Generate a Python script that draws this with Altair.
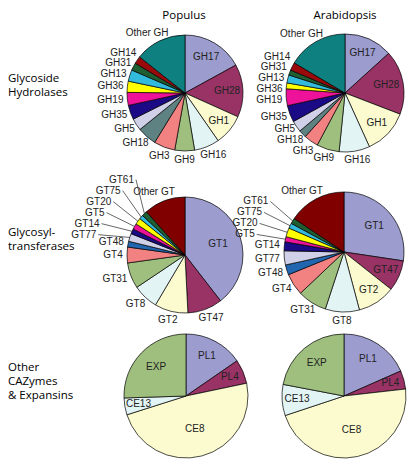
import math
import altair as alt
import pandas as pd

# ---------------- data (percent of family members) ----------------
columns = ["Populus", "Arabidopsis"]
row_titles = [["Glycoside", "Hydrolases"],
              ["Glycosyl-", "transferases"],
              ["Other", "CAZymes", "& Expansins"]]

gh_cats = ["GH17", "GH28", "GH1", "GH16", "GH9", "GH3", "GH18", "GH5", "GH35",
           "GH19", "GH36", "GH13", "GH31", "GH14", "Other GH"]
gh_populus = [17.0, 14.7, 8.6, 7.0, 5.5, 5.9, 5.4, 3.4, 4.0, 3.6, 3.1, 3.2, 2.1, 2.1, 14.3]
gh_arabidopsis = [13.3, 17.6, 12.4, 8.4, 6.2, 4.0, 2.1, 3.1, 4.6, 4.6, 1.6, 2.2, 1.4, 2.2, 16.5]

gt_cats = ["GT1", "GT47", "GT2", "GT8", "GT31", "GT4", "GT48", "GT77", "GT14",
           "GT5", "GT20", "GT75", "GT61", "Other GT"]
gt_populus = [39.5, 9.7, 9.3, 7.1, 7.2, 4.4, 1.6, 2.2, 1.4, 1.6, 1.8, 1.1, 1.5, 11.6]
gt_arabidopsis = [27.4, 8.3, 10.2, 9.2, 7.9, 5.9, 2.7, 3.8, 2.4, 1.4, 2.4, 1.4, 1.5, 15.6]

oth_cats = ["PL1", "PL4", "CE8", "CE13", "EXP"]
oth_populus = [15.4, 6.3, 48.4, 4.4, 25.5]
oth_arabidopsis = [18.4, 4.8, 46.7, 8.1, 22.0]

# ---------------- styles ----------------
colors = {
    "GH17": "#9c9ccf", "GH28": "#993366", "GH1": "#fbfbcf", "GH16": "#e3f4f4",
    "GH9": "#9fbf7f", "GH3": "#f28282", "GH18": "#5e8282", "GH5": "#d0d0e8",
    "GH35": "#1a0a85", "GH19": "#ee1199", "GH36": "#ffff00", "GH13": "#33bbdd",
    "GH31": "#1f5f32", "GH14": "#9a0a0a", "Other GH": "#0f8080",
    "GT1": "#9c9ccf", "GT47": "#993366", "GT2": "#fbfbcf", "GT8": "#e3f4f4",
    "GT31": "#9fbf7f", "GT4": "#f28282", "GT48": "#2266b0", "GT77": "#d0d0e8",
    "GT14": "#1a0a85", "GT5": "#ee1199", "GT20": "#ffff00", "GT75": "#33bbdd",
    "GT61": "#1f5f32", "Other GT": "#800000",
    "PL1": "#9c9ccf", "PL4": "#993366", "CE8": "#fbfbcf", "CE13": "#e3f4f4",
    "EXP": "#9fbf7f",
}
color_scale = alt.Scale(domain=list(colors.keys()), range=list(colors.values()))

LABEL_FONT = "Liberation Sans"
LABEL_SIZE = 10
TITLE_FONT = "Open Sans"
TITLE_SIZE = 11.5

# layout (chart pixel coordinates)
pies = [
    dict(cats=gh_cats, values=gh_populus, cx=177, cy=85, r=58,
         inside=["GH17", "GH28", "GH1"], leader=[]),
    dict(cats=gh_cats, values=gh_arabidopsis, cx=337, cy=85, r=59,
         inside=["GH17", "GH28", "GH1"], leader=[]),
    dict(cats=gt_cats, values=gt_populus, cx=177, cy=247, r=58,
         inside=["GT1"], leader=["GT61", "GT75", "GT20", "GT5", "GT14", "GT77"]),
    dict(cats=gt_cats, values=gt_arabidopsis, cx=336, cy=244, r=60,
         inside=["GT1", "GT47", "GT2"], leader=["GT61", "GT75", "GT20", "GT5"]),
    dict(cats=oth_cats, values=oth_populus, cx=178, cy=388, r=62,
         inside=oth_cats, leader=[]),
    dict(cats=oth_cats, values=oth_arabidopsis, cx=336, cy=388, r=62,
         inside=oth_cats, leader=[]),
]
col_title_pos = [(176, 11), (337, 11)]
row_title_pos = [[71, 85], [225, 239], [360, 374, 388]]

# ---------------- label placement derived from the slice angles ----------------
inside_rows, outside_rows, leader_rows, rule_rows = [], [], [], []
for p in pies:
    total = sum(p["values"])
    cum = 0.0
    outs, leads = [], []
    for cat, v in zip(p["cats"], p["values"]):
        a = 2 * math.pi * (cum + v / 2) / total
        cum += v
        frac = v / total
        s, c = math.sin(a), math.cos(a)
        if cat in p["inside"]:
            rr = p["r"] * (0.8 - 0.5 * frac)
            inside_rows.append(dict(x=p["cx"] + rr * s, y=p["cy"] - rr * c, text=cat))
        elif cat in p["leader"]:
            leads.append((a, cat))
        else:
            hw = len(cat) * 3.0
            ra = p["r"] + 5
            outs.append(dict(x=p["cx"] + ra * s + hw * s,
                             y=p["cy"] - ra * c - 4 * c, text=cat, hw=hw))
    # relax overlapping outside labels vertically
    for _ in range(40):
        for i in range(len(outs)):
            for j in range(i + 1, len(outs)):
                A, B = outs[i], outs[j]
                if abs(A["x"] - B["x"]) < A["hw"] + B["hw"]:
                    gap = abs(A["y"] - B["y"])
                    if gap < 10.8:
                        d = (10.8 - gap) / 2
                        if A["y"] <= B["y"]:
                            A["y"] -= d; B["y"] += d
                        else:
                            A["y"] += d; B["y"] -= d
    for o in outs:
        outside_rows.append(dict(x=o["x"], y=o["y"], text=o["text"]))
    # leader labels stacked on the left
    if leads:
        Rl = 91
        leads.sort(key=lambda t: -t[0])
        m = sum(-Rl * math.cos(a) for a, _ in leads) / len(leads)
        n = len(leads)
        for k, (a, cat) in enumerate(leads):
            dy = m + (k - (n - 1) / 2) * 11
            lx = p["cx"] - math.sqrt(Rl * Rl - dy * dy)
            ly = p["cy"] + dy
            leader_rows.append(dict(x=lx, y=ly, text=cat))
            rule_rows.append(dict(x1=lx + 2, y1=ly, x2=p["cx"] + p["r"] * math.sin(a),
                                  y2=p["cy"] - p["r"] * math.cos(a)))

# ---------------- chart ----------------
layers = []
for p in pies:
    dfp = pd.DataFrame({"cat": p["cats"], "value": p["values"],
                        "ord": list(range(len(p["cats"])))})
    layers.append(
        alt.Chart(dfp).mark_arc(radius=p["r"], stroke="black", strokeWidth=0.7).encode(
            theta=alt.Theta("value:Q", stack=True),
            color=alt.Color("cat:N", scale=color_scale, legend=None),
            order=alt.Order("ord:Q"),
            x=alt.value(p["cx"]),
            y=alt.value(p["cy"]),
        )
    )

rules = alt.Chart(pd.DataFrame(rule_rows)).mark_rule(color="black", strokeWidth=0.6).encode(
    x=alt.X("x1:Q", scale=None, axis=None), y=alt.Y("y1:Q", scale=None, axis=None),
    x2="x2:Q", y2="y2:Q")
layers.append(rules)


def text_layer(rows, align, font, size, color, baseline="middle"):
    return alt.Chart(pd.DataFrame(rows)).mark_text(
        align=align, baseline=baseline, font=font, fontSize=size, color=color
    ).encode(x=alt.X("x:Q", scale=None, axis=None),
             y=alt.Y("y:Q", scale=None, axis=None),
             text="text:N")


layers.append(text_layer(inside_rows, "center", LABEL_FONT, LABEL_SIZE, "#222222"))
layers.append(text_layer(outside_rows, "center", LABEL_FONT, LABEL_SIZE, "#222222"))
layers.append(text_layer(leader_rows, "right", LABEL_FONT, LABEL_SIZE, "#222222"))

col_rows = [dict(x=xy[0], y=xy[1], text=t) for t, xy in zip(columns, col_title_pos)]
layers.append(text_layer(col_rows, "center", TITLE_FONT, TITLE_SIZE, "black",
                         baseline="alphabetic"))
row_rows = []
for lines, ys in zip(row_titles, row_title_pos):
    for t, yy in zip(lines, ys):
        row_rows.append(dict(x=0, y=yy, text=t))
layers.append(text_layer(row_rows, "left", TITLE_FONT, TITLE_SIZE, "black"))

chart = alt.layer(*layers).resolve_scale(theta="independent").properties(
    width=399, height=451, padding=0,
    autosize=alt.AutoSizeParams(type="none"),
).configure_view(stroke=None)

chart.save("out.html", embed_options={"renderer": "svg", "actions": False})
